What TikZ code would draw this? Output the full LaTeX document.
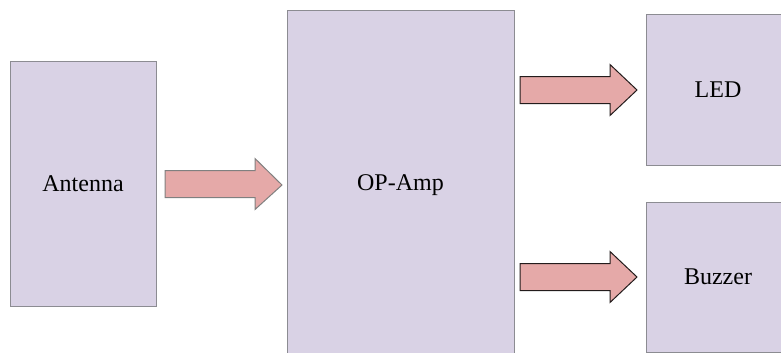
\documentclass[tikz,border=0pt]{standalone}
\usepackage{fontspec}
\setmainfont{Liberation Serif}
\usetikzlibrary{calc}
\definecolor{boxfill}{RGB}{217,210,229}
\definecolor{boxline}{RGB}{140,140,146}
\definecolor{arrowfill}{RGB}{229,169,168}
\definecolor{arrowgray}{RGB}{128,128,128}
\definecolor{arrowdark}{RGB}{35,28,28}
\begin{document}
\begin{tikzpicture}[x=1pt,y=-1pt,
  block/.style={draw=boxline,fill=boxfill,line width=1pt,inner sep=0pt,outer sep=0pt,
    font=\fontsize{24}{28}\selectfont},
  fatarrow/.style={fill=arrowfill,line width=1pt,line join=miter,
    to path={let \p1=(\tikztostart), \p2=(\tikztotarget) in
      (\x1,\y1+13.5pt) -- (\x2-27pt,\y1+13.5pt) -- (\x2-27pt,\y1+25.5pt) -- (\x2,\y2)
      -- (\x2-27pt,\y1-25.5pt) -- (\x2-27pt,\y1-13.5pt) -- (\x1,\y1-13.5pt) -- cycle}}]
\useasboundingbox (0,0) rectangle (781,353);
\clip (0,0) rectangle (781,353);
\node[block,minimum width=146pt,minimum height=244pt] (ant) at (83,184) {Antenna};
\node[block,minimum width=227pt,minimum height=348pt] (opamp) at (400.5,185) {OP-Amp};
\node[block,minimum width=144pt,minimum height=150pt] (led) at (718,90) {LED};
\node[block,minimum width=144pt,minimum height=150pt] (buzz) at (718,277) {Buzzer};
\draw[fatarrow,draw=arrowgray] ($(ant.east)+(9,0)$) to ($(opamp.west)+(-5,0)$);
\draw[fatarrow,draw=arrowdark] ($(opamp.east |- led.west)+(6,0)$) to ($(led.west)+(-9,0)$);
\draw[fatarrow,draw=arrowdark] ($(opamp.east |- buzz.west)+(6,0)$) to ($(buzz.west)+(-9,0)$);
\end{tikzpicture}
\end{document}
